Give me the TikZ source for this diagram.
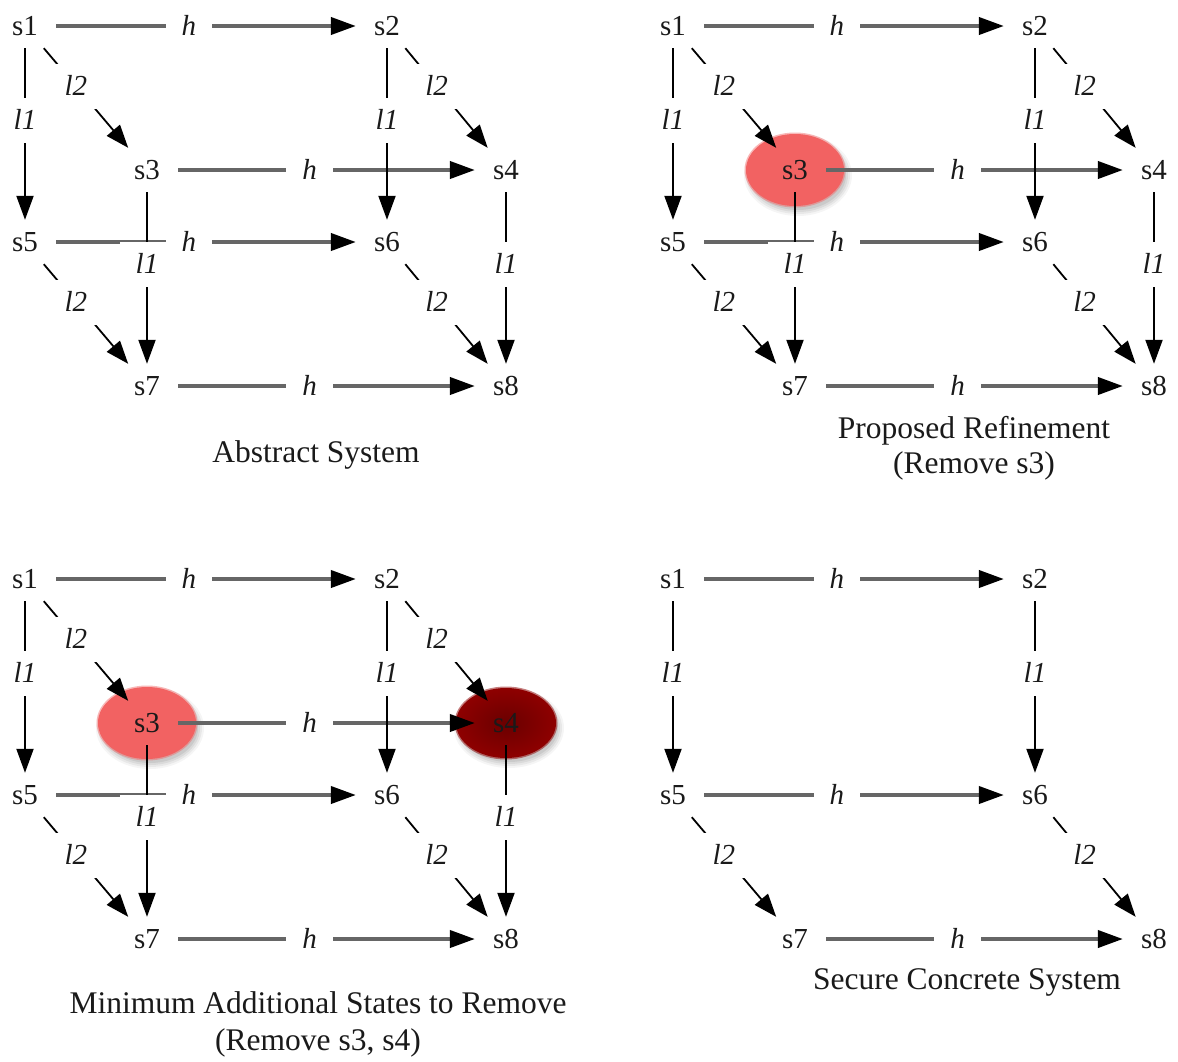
\documentclass[tikz,border=0pt]{standalone}
\usepackage{fontspec}
\setmainfont{Liberation Serif}
\usetikzlibrary{arrows.meta,calc,backgrounds}

\definecolor{hgray}{HTML}{666666}
\definecolor{ink}{HTML}{1A1A1A}
\definecolor{salmon}{HTML}{F26262}
\definecolor{darkred}{HTML}{6A0000}
\definecolor{rimred}{HTML}{8E0000}

\tikzset{
  state/.style={font=\fontsize{29}{32}\selectfont, text=ink,
    text height=20pt, text depth=2pt, inner xsep=18pt, inner ysep=11pt},
  lab/.style={font=\fontsize{29}{32}\selectfont\itshape, text=ink, fill=white,
    text height=19pt, text depth=0pt, inner xsep=16pt, inner ysep=13pt},
  hedge/.style={draw=hgray, line width=3.8pt,
    -{Triangle[length=25pt,width=17pt,color=black]}},
  vedge/.style={draw=black, line width=2pt, -{Triangle[length=24pt,width=17pt]}},
  dedge/.style={draw=black, line width=1.8pt, -{Triangle[length=23pt,width=17pt]}},
  hl/.style={lab, pos=.443},
  vl/.style={lab, pos=.42},
  dl/.style={lab, pos=.38},
  caption/.style={font=\fontsize{31.5}{36}\selectfont, text=ink, anchor=base},
}

% soft ellipse with a faint drop shadow behind a state
\newcommand\blobstate[4]{%
  \foreach \r/\o in {8/0.04,6/0.05,4/0.06,2/0.07}
    \fill[black,opacity=\o] ($(#1)+(3,5)$) ellipse [x radius=#2+\r-3, y radius=#3+\r-3];
  \fill[#4,opacity=.45] (#1) ellipse [x radius=#2+1.5, y radius=#3+1.5];
  \fill[#4] (#1) ellipse [x radius=#2, y radius=#3];
}

\begin{document}
\begin{tikzpicture}[x=1pt,y=-1pt]
\useasboundingbox (0,0) rectangle (1178,1061);

% ---------- Abstract System ----------
\node[state] (a1) at (25,26) {s1};
\node[state] (a2) at (387,26) {s2};
\node[state] (a3) at (147,170) {s3};
\node[state] (a4) at (506,170) {s4};
\node[state] (a5) at (25,242) {s5};
\node[state] (a6) at (387,242) {s6};
\node[state] (a7) at (147,386) {s7};
\node[state] (a8) at (506,386) {s8};
\draw[hedge] (a1) -- node[hl]{h} (a2);
\draw[hedge] (a3) -- node[hl]{h} (a4);
\draw[hedge] (a5) -- node[hl]{h} (a6);
\draw[hedge] (a7) -- node[hl]{h} (a8);
\draw[vedge] (a1) -- node[vl]{l1} (a5);
\draw[vedge] (a2) -- node[vl]{l1} (a6);
\draw[vedge] (a3) -- node[vl]{l1} (a7);
\draw[vedge] (a4) -- node[vl]{l1} (a8);
\draw[dedge] (a1) -- node[dl]{l2} (a3);
\draw[dedge] (a2) -- node[dl]{l2} (a4);
\draw[dedge] (a5) -- node[dl]{l2} (a7);
\draw[dedge] (a6) -- node[dl]{l2} (a8);
\node[caption] (capa) at (316,462) {Abstract System};

% ---------- Proposed Refinement ----------
\begin{scope}[shift={(648,0)}]
\node[state] (b1) at (25,26) {s1};
\node[state] (b2) at (387,26) {s2};
\node[state] (b3) at (147,170) {s3};
\node[state] (b4) at (506,170) {s4};
\node[state] (b5) at (25,242) {s5};
\node[state] (b6) at (387,242) {s6};
\node[state] (b7) at (147,386) {s7};
\node[state] (b8) at (506,386) {s8};
\node[caption] (capb1) at (326,438) {Proposed Refinement};
\node[caption] (capb2) at (326,473) {(Remove s3)};
\end{scope}
\draw[hedge] (b1) -- node[hl]{h} (b2);
\draw[hedge] (b3) -- node[hl]{h} (b4);
\draw[hedge] (b5) -- node[hl]{h} (b6);
\draw[hedge] (b7) -- node[hl]{h} (b8);
\draw[vedge] (b1) -- node[vl]{l1} (b5);
\draw[vedge] (b2) -- node[vl]{l1} (b6);
\draw[vedge] (b3) -- node[vl]{l1} (b7);
\draw[vedge] (b4) -- node[vl]{l1} (b8);
\draw[dedge] (b1) -- node[dl]{l2} (b3);
\draw[dedge] (b2) -- node[dl]{l2} (b4);
\draw[dedge] (b5) -- node[dl]{l2} (b7);
\draw[dedge] (b6) -- node[dl]{l2} (b8);

% ---------- Minimum Additional States to Remove ----------
\begin{scope}[shift={(0,553)}]
\node[state] (c1) at (25,26) {s1};
\node[state] (c2) at (387,26) {s2};
\node[state] (c3) at (147,170) {s3};
\node[state] (c4) at (506,170) {s4};
\node[state] (c5) at (25,242) {s5};
\node[state] (c6) at (387,242) {s6};
\node[state] (c7) at (147,386) {s7};
\node[state] (c8) at (506,386) {s8};
\node[caption] (capc1) at (318,460) {Minimum Additional States to Remove};
\node[caption] (capc2) at (318,497) {(Remove s3, s4)};
\end{scope}
\draw[hedge] (c1) -- node[hl]{h} (c2);
\draw[hedge] (c3) -- node[hl]{h} (c4);
\draw[hedge] (c5) -- node[hl]{h} (c6);
\draw[hedge] (c7) -- node[hl]{h} (c8);
\draw[vedge] (c1) -- node[vl]{l1} (c5);
\draw[vedge] (c2) -- node[vl]{l1} (c6);
\draw[vedge] (c3) -- node[vl]{l1} (c7);
\draw[vedge] (c4) -- node[vl]{l1} (c8);
\draw[dedge] (c1) -- node[dl]{l2} (c3);
\draw[dedge] (c2) -- node[dl]{l2} (c4);
\draw[dedge] (c5) -- node[dl]{l2} (c7);
\draw[dedge] (c6) -- node[dl]{l2} (c8);

% ---------- Secure Concrete System ----------
\begin{scope}[shift={(648,553)}]
\node[state] (d1) at (25,26) {s1};
\node[state] (d2) at (387,26) {s2};
\node[state] (d5) at (25,242) {s5};
\node[state] (d6) at (387,242) {s6};
\node[state] (d7) at (147,386) {s7};
\node[state] (d8) at (506,386) {s8};
\node[caption] (capd) at (319,436) {Secure Concrete System};
\end{scope}
\draw[hedge] (d1) -- node[hl]{h} (d2);
\draw[hedge] (d5) -- node[hl]{h} (d6);
\draw[hedge] (d7) -- node[hl]{h} (d8);
\draw[vedge] (d1) -- node[vl]{l1} (d5);
\draw[vedge] (d2) -- node[vl]{l1} (d6);
\draw[dedge] (d5) -- node[dl]{l2} (d7);
\draw[dedge] (d6) -- node[dl]{l2} (d8);

% ---------- highlighted states, behind everything ----------
\begin{scope}[on background layer]
\fill[white] (0,0) rectangle (1178,1061);
\blobstate{b3}{49}{36}{salmon}
\blobstate{c3}{49}{36}{salmon}
\foreach \r/\o in {8/0.04,6/0.05,4/0.06,2/0.07}
  \fill[black,opacity=\o] ($(c4)+(3,5)$) ellipse [x radius=50+\r-3, y radius=35+\r-3];
\fill[rimred,opacity=.5] (c4) ellipse [x radius=51.5, y radius=36.5];
\shade[inner color=darkred, outer color=rimred] (c4) ellipse [x radius=50, y radius=35];
\end{scope}
\end{tikzpicture}
\end{document}
